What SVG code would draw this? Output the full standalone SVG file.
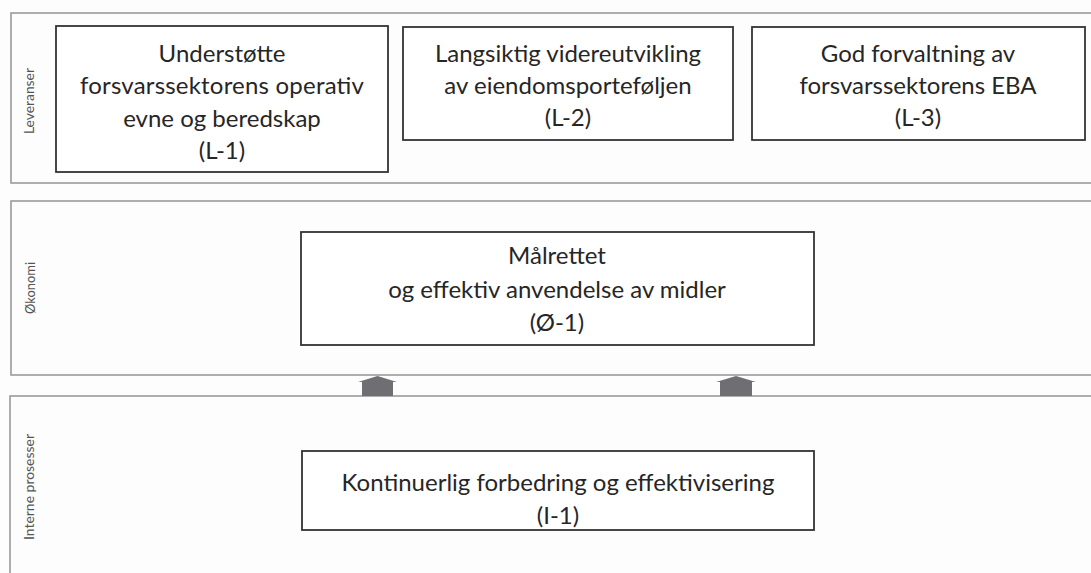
<svg xmlns="http://www.w3.org/2000/svg" width="1091" height="573" viewBox="0 0 1091 573">
  <style>
    .band { fill: #fdfdfd; stroke: #9a9a9a; stroke-width: 1.6; }
    .box { fill: #ffffff; stroke: #333333; stroke-width: 1.8; }
    .txt { font-family: Lato, "Open Sans", "Liberation Sans", sans-serif; font-size: 24px; fill: #262626; text-anchor: middle; }
    .side { font-family: Lato, "Open Sans", "Liberation Sans", sans-serif; font-size: 13px; fill: #555555; text-anchor: middle; }
    .arrow { fill: #6f6f73; }
  </style>
  <rect x="0" y="0" width="1091" height="573" fill="#fdfdfd"/>

  <!-- swimlanes -->
  <g id="lane-leveranser">
    <rect class="band" x="11" y="13" width="1100" height="170"/>
    <text class="side" transform="translate(34,101) rotate(-90)" textLength="66" lengthAdjust="spacingAndGlyphs">Leveranser</text>
  </g>
  <g id="lane-okonomi">
    <rect class="band" x="11" y="201" width="1100" height="174"/>
    <text class="side" transform="translate(35,288) rotate(-90)" textLength="52" lengthAdjust="spacingAndGlyphs">Økonomi</text>
  </g>
  <g id="lane-interne">
    <rect class="band" x="10" y="396" width="1100" height="200"/>
    <text class="side" transform="translate(34,487) rotate(-90)" textLength="106" lengthAdjust="spacingAndGlyphs">Interne prosesser</text>
  </g>

  <!-- deliverables -->
  <g id="L-1">
    <rect class="box" x="56" y="26" width="332" height="146"/>
    <text class="txt" x="222" y="62">Understøtte</text>
    <text class="txt" x="222" y="94" textLength="284">forsvarssektorens operativ</text>
    <text class="txt" x="222" y="127">evne og beredskap</text>
    <text class="txt" x="222" y="159">(L-1)</text>
  </g>
  <g id="L-2">
    <rect class="box" x="403" y="27" width="330" height="113"/>
    <text class="txt" x="568" y="62">Langsiktig videreutvikling</text>
    <text class="txt" x="568" y="94">av eiendomsporteføljen</text>
    <text class="txt" x="568" y="126">(L-2)</text>
  </g>
  <g id="L-3">
    <rect class="box" x="752" y="27" width="333" height="113"/>
    <text class="txt" x="918" y="62">God forvaltning av</text>
    <text class="txt" x="918" y="94">forsvarssektorens EBA</text>
    <text class="txt" x="918" y="126">(L-3)</text>
  </g>

  <!-- economy -->
  <g id="O-1">
    <rect class="box" x="301" y="232" width="513" height="113"/>
    <text class="txt" x="557" y="264">Målrettet</text>
    <text class="txt" x="557" y="298">og effektiv anvendelse av midler</text>
    <text class="txt" x="557" y="331">(Ø-1)</text>
  </g>

  <!-- internal processes -->
  <g id="I-1">
    <rect class="box" x="302" y="451" width="512" height="79"/>
    <text class="txt" x="558" y="491">Kontinuerlig forbedring og effektivisering</text>
    <text class="txt" x="558" y="524">(I-1)</text>
  </g>

  <!-- block arrows between lanes -->
  <g id="connectors">
    <path class="arrow" d="M377.5,376 L358,382 L362,382 L362,396 L393,396 L393,382 L397,382 Z"/>
    <path class="arrow" d="M736,376 L716,382 L720,382 L720,396 L752,396 L752,382 L756,382 Z"/>
  </g>
</svg>
